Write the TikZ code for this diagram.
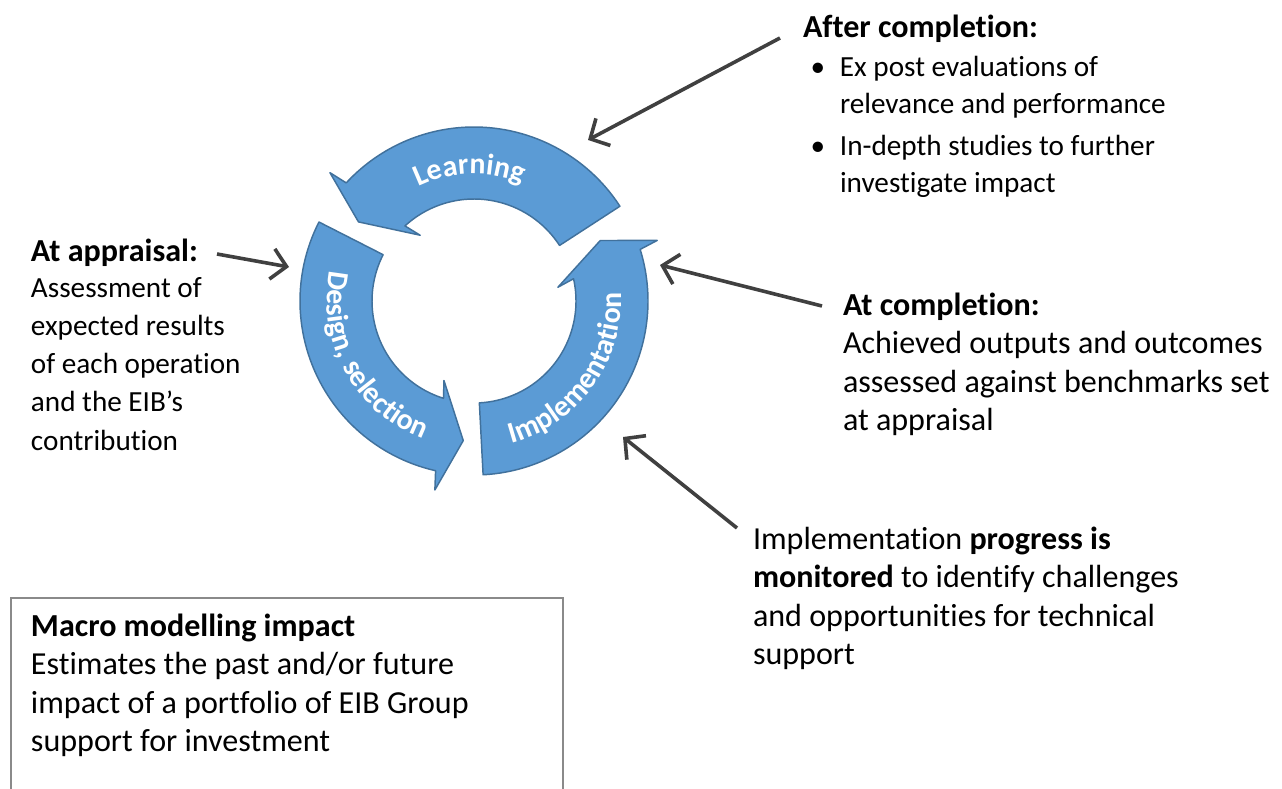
\documentclass[tikz,border=0pt]{standalone}
\usepackage{fontspec}
\setmainfont{Carlito}[Ligatures=NoCommon]
\usetikzlibrary{arrows.meta,decorations.text}
\definecolor{cycfill}{HTML}{5B9BD5}
\definecolor{cycline}{HTML}{41719C}
\definecolor{connc}{HTML}{404040}
\definecolor{boxline}{HTML}{8A8A8A}
\newcommand{\cyctext}{\fontsize{22.4}{26}\selectfont\bfseries}
\newcommand{\smallbody}{\fontsize{21.9}{28.5}\selectfont}
\newcommand{\cycarrow}[1]{%
  \draw[cyc] (33+#1:174) arc[start angle=33+#1, end angle=137.25+#1, radius=174]
    -- (138.3+#1:193) -- (145.6+#1:140) -- (129.3+#1:85) -- (132.6+#1:102)
    arc[start angle=132.6+#1, end angle=33+#1, radius=102] -- cycle;}
\begin{document}
\begin{tikzpicture}[x=0.75pt,y=-0.75pt,
  txt/.style={inner sep=0pt, outer sep=0pt, anchor=base west, align=flush left,
    text width=345pt, font=\fontsize{24.05}{28.9}\selectfont},
  conn/.style={draw=connc, line width=2.7pt,
    -{Straight Barb[length=11pt,width=23pt]}},
  cyc/.style={fill=cycfill, draw=cycline, line width=1.1pt, line join=round},
  cyclabel/.style={decorate, decoration={text along path, text align=center,
    text color=white, text={|\cyctext|#1}}},
]
\useasboundingbox (0,0) rectangle (1282,789);

% cycle
\begin{scope}[shift={(474,301)}, y=0.75pt]
  \cycarrow{0}
  \cycarrow{120}
  \cycarrow{240}
  \path[cyclabel={Learning}] (137:127) arc[start angle=137, end angle=47, radius=127];
  \path[cyclabel={Design, selection}] (158:147) arc[start angle=158, end angle=260, radius=147];
  \path[cyclabel={Implementation}] (273:147) arc[start angle=273, end angle=375, radius=147];
\end{scope}

% text blocks
\node[txt] (after) at (803,37) {\textbf{After completion:}\\[1pt]
  {\smallbody\hspace*{11.25pt}\makebox[0pt]{\textbullet}\hspace*{16.5pt}Ex post evaluations of\\[-0.6pt]
  \hspace*{27.75pt}relevance and performance\\[2.6pt]
  \hspace*{11.25pt}\makebox[0pt]{\textbullet}\hspace*{16.5pt}In-depth studies to further\\[-0.6pt]
  \hspace*{27.75pt}investigate impact}};

\node[txt] (appraisal) at (31,261) {\textbf{At appraisal:}\\[-1pt]
  {\smallbody Assessment of\\
  expected results\\
  of each operation\\
  and the EIB’s\\
  contribution}};

\node[txt] (completion) at (843,315) {\textbf{At completion:}\\
  Achieved outputs and outcomes\\
  assessed against benchmarks set\\
  at appraisal};

\node[txt] (progress) at (753,549) {Implementation \textbf{progress is}\\
  \textbf{monitored} to identify challenges\\
  and opportunities for technical\\
  support};

\node[draw=boxline, line width=1.5pt, anchor=north west, inner sep=0pt,
  minimum width=414pt, minimum height=160pt] (macrobox) at (10,597) {};
\node[txt] (macro) at (31,636) {\textbf{Macro modelling impact}\\
  Estimates the past and/or future\\
  impact of a portfolio of EIB Group\\
  support for investment};

% connectors
\coordinate (a1s) at (780,38);
\coordinate (a1e) at (588,140);
\coordinate (a2s) at (217,254);
\coordinate (a2e) at (289,267);
\coordinate (a3s) at (822,306);
\coordinate (a3e) at (660,265);
\coordinate (a4s) at (737,528);
\coordinate (a4e) at (623,437);
\draw[conn] (a1s) -- (a1e);
\draw[conn] (a2s) -- (a2e);
\draw[conn] (a3s) -- (a3e);
\draw[conn] (a4s) -- (a4e);
\end{tikzpicture}
\end{document}
